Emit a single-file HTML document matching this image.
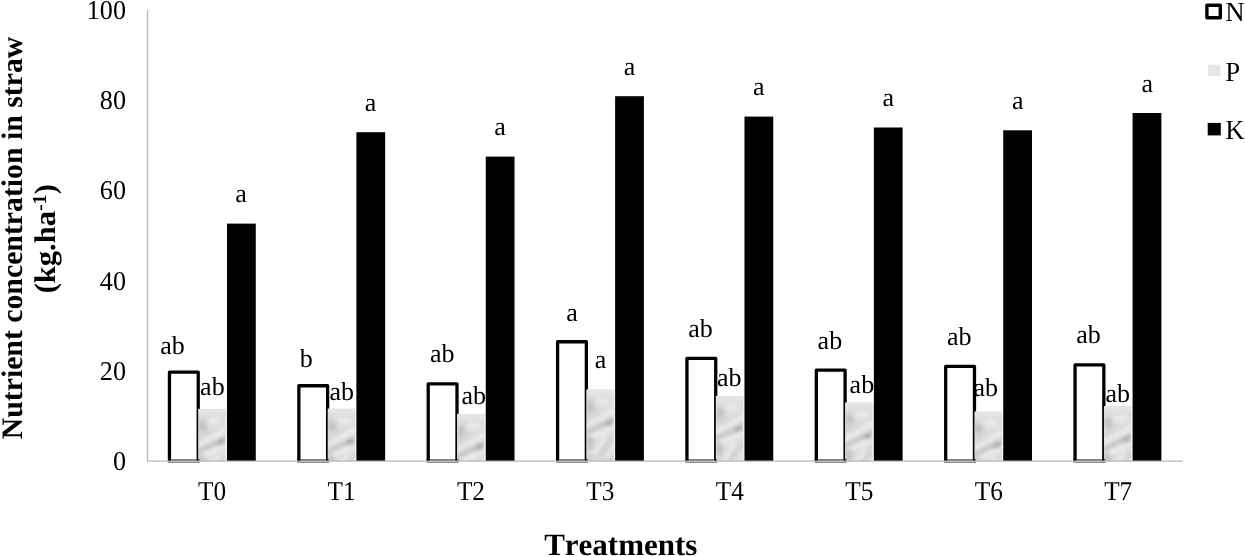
<!DOCTYPE html>
<html><head><meta charset="utf-8"><title>Chart</title>
<style>html,body{margin:0;padding:0;background:#fff;}body{width:1245px;height:556px;overflow:hidden;position:relative;}svg{position:absolute;left:0;top:0;display:block;filter:grayscale(1);}text{font-family:"Liberation Serif",serif;fill:#000;font-kerning:none;font-variant-ligatures:none;text-rendering:geometricPrecision;}</style>
</head><body>
<svg width="1245" height="556" viewBox="0 0 1245 556">
<defs>
<filter id="bl" x="-50%" y="-50%" width="200%" height="200%"><feGaussianBlur stdDeviation="1.9"/></filter>
</defs>
<rect x="0" y="0" width="1245" height="556" fill="#ffffff"/>
<rect x="169.47" y="372.15" width="28.77" height="88.85" fill="#fff"/>
<path d="M169.47 460.4 V372.15 H198.24 V460.4" fill="none" stroke="#000" stroke-width="3.3" stroke-linejoin="round"/>
<clipPath id="cp0"><rect x="198.64" y="408.90" width="26.77" height="52.10"/></clipPath><rect x="198.34" y="408.90" width="28.37" height="52.10" fill="#efefef"/><rect x="198.64" y="408.90" width="26.77" height="52.10" fill="#dcdcdc"/><g clip-path="url(#cp0)"><g filter="url(#bl)" transform="translate(198.64,408.90)"><rect x="-5" y="-5" width="40" height="10" fill="#e5e5e5"/><ellipse cx="3.5" cy="17" rx="4.5" ry="6" fill="#c2c2c2"/><ellipse cx="16" cy="12" rx="7" ry="3.5" fill="#ebebeb"/><path d="M-2 30 L12 22" stroke="#d0d0d0" stroke-width="3" fill="none"/><path d="M-2 38 L30 19" stroke="#ededed" stroke-width="4.5" fill="none"/><path d="M-2 43 L30 29" stroke="#c0c0c0" stroke-width="4.5" fill="none"/><ellipse cx="22.5" cy="33.5" rx="3.2" ry="2.8" fill="#999999"/><path d="M4 47 L30 35" stroke="#f0f0f0" stroke-width="4" fill="none"/><ellipse cx="3" cy="53" rx="4" ry="7" fill="#c2c2c2"/><path d="M6 66 L20 46" stroke="#eeeeee" stroke-width="3" fill="none"/><path d="M12 68 L26 48" stroke="#cacaca" stroke-width="3" fill="none"/><path d="M19 70 L30 52" stroke="#ededed" stroke-width="3" fill="none"/><ellipse cx="4" cy="68" rx="4" ry="4" fill="#d0d0d0"/><path d="M0 84 L30 66" stroke="#c8c8c8" stroke-width="4" fill="none"/></g></g>
<rect x="227.01" y="223.60" width="28.77" height="237.40" fill="#000"/>
<rect x="298.85" y="385.75" width="28.77" height="75.25" fill="#fff"/>
<path d="M298.85 460.4 V385.75 H327.61 V460.4" fill="none" stroke="#000" stroke-width="3.3" stroke-linejoin="round"/>
<clipPath id="cp1"><rect x="328.01" y="408.80" width="26.77" height="52.20"/></clipPath><rect x="327.71" y="408.80" width="28.37" height="52.20" fill="#efefef"/><rect x="328.01" y="408.80" width="26.77" height="52.20" fill="#dcdcdc"/><g clip-path="url(#cp1)"><g filter="url(#bl)" transform="translate(328.01,408.80)"><rect x="-5" y="-5" width="40" height="10" fill="#e5e5e5"/><ellipse cx="3.5" cy="17" rx="4.5" ry="6" fill="#c2c2c2"/><ellipse cx="16" cy="12" rx="7" ry="3.5" fill="#ebebeb"/><path d="M-2 30 L12 22" stroke="#d0d0d0" stroke-width="3" fill="none"/><path d="M-2 38 L30 19" stroke="#ededed" stroke-width="4.5" fill="none"/><path d="M-2 43 L30 29" stroke="#c0c0c0" stroke-width="4.5" fill="none"/><ellipse cx="22.5" cy="33.5" rx="3.2" ry="2.8" fill="#999999"/><path d="M4 47 L30 35" stroke="#f0f0f0" stroke-width="4" fill="none"/><ellipse cx="3" cy="53" rx="4" ry="7" fill="#c2c2c2"/><path d="M6 66 L20 46" stroke="#eeeeee" stroke-width="3" fill="none"/><path d="M12 68 L26 48" stroke="#cacaca" stroke-width="3" fill="none"/><path d="M19 70 L30 52" stroke="#ededed" stroke-width="3" fill="none"/><ellipse cx="4" cy="68" rx="4" ry="4" fill="#d0d0d0"/><path d="M0 84 L30 66" stroke="#c8c8c8" stroke-width="4" fill="none"/></g></g>
<rect x="356.38" y="132.20" width="28.77" height="328.80" fill="#000"/>
<rect x="428.22" y="383.85" width="28.77" height="77.15" fill="#fff"/>
<path d="M428.22 460.4 V383.85 H456.98 V460.4" fill="none" stroke="#000" stroke-width="3.3" stroke-linejoin="round"/>
<clipPath id="cp2"><rect x="457.38" y="413.90" width="26.77" height="47.10"/></clipPath><rect x="457.08" y="413.90" width="28.37" height="47.10" fill="#efefef"/><rect x="457.38" y="413.90" width="26.77" height="47.10" fill="#dcdcdc"/><g clip-path="url(#cp2)"><g filter="url(#bl)" transform="translate(457.38,413.90)"><rect x="-5" y="-5" width="40" height="10" fill="#e5e5e5"/><ellipse cx="3.5" cy="17" rx="4.5" ry="6" fill="#c2c2c2"/><ellipse cx="16" cy="12" rx="7" ry="3.5" fill="#ebebeb"/><path d="M-2 30 L12 22" stroke="#d0d0d0" stroke-width="3" fill="none"/><path d="M-2 38 L30 19" stroke="#ededed" stroke-width="4.5" fill="none"/><path d="M-2 43 L30 29" stroke="#c0c0c0" stroke-width="4.5" fill="none"/><ellipse cx="22.5" cy="33.5" rx="3.2" ry="2.8" fill="#999999"/><path d="M4 47 L30 35" stroke="#f0f0f0" stroke-width="4" fill="none"/><ellipse cx="3" cy="53" rx="4" ry="7" fill="#c2c2c2"/><path d="M6 66 L20 46" stroke="#eeeeee" stroke-width="3" fill="none"/><path d="M12 68 L26 48" stroke="#cacaca" stroke-width="3" fill="none"/><path d="M19 70 L30 52" stroke="#ededed" stroke-width="3" fill="none"/><ellipse cx="4" cy="68" rx="4" ry="4" fill="#d0d0d0"/><path d="M0 84 L30 66" stroke="#c8c8c8" stroke-width="4" fill="none"/></g></g>
<rect x="485.75" y="156.60" width="28.77" height="304.40" fill="#000"/>
<rect x="557.59" y="341.75" width="28.77" height="119.25" fill="#fff"/>
<path d="M557.59 460.4 V341.75 H586.35 V460.4" fill="none" stroke="#000" stroke-width="3.3" stroke-linejoin="round"/>
<clipPath id="cp3"><rect x="586.75" y="389.70" width="26.77" height="71.30"/></clipPath><rect x="586.45" y="389.70" width="28.37" height="71.30" fill="#efefef"/><rect x="586.75" y="389.70" width="26.77" height="71.30" fill="#dcdcdc"/><g clip-path="url(#cp3)"><g filter="url(#bl)" transform="translate(586.75,389.70)"><rect x="-5" y="-5" width="40" height="10" fill="#e5e5e5"/><ellipse cx="3.5" cy="17" rx="4.5" ry="6" fill="#c2c2c2"/><ellipse cx="16" cy="12" rx="7" ry="3.5" fill="#ebebeb"/><path d="M-2 30 L12 22" stroke="#d0d0d0" stroke-width="3" fill="none"/><path d="M-2 38 L30 19" stroke="#ededed" stroke-width="4.5" fill="none"/><path d="M-2 43 L30 29" stroke="#c0c0c0" stroke-width="4.5" fill="none"/><ellipse cx="22.5" cy="33.5" rx="3.2" ry="2.8" fill="#999999"/><path d="M4 47 L30 35" stroke="#f0f0f0" stroke-width="4" fill="none"/><ellipse cx="3" cy="53" rx="4" ry="7" fill="#c2c2c2"/><path d="M6 66 L20 46" stroke="#eeeeee" stroke-width="3" fill="none"/><path d="M12 68 L26 48" stroke="#cacaca" stroke-width="3" fill="none"/><path d="M19 70 L30 52" stroke="#ededed" stroke-width="3" fill="none"/><ellipse cx="4" cy="68" rx="4" ry="4" fill="#d0d0d0"/><path d="M0 84 L30 66" stroke="#c8c8c8" stroke-width="4" fill="none"/></g></g>
<rect x="615.12" y="96.20" width="28.77" height="364.80" fill="#000"/>
<rect x="686.96" y="358.45" width="28.77" height="102.55" fill="#fff"/>
<path d="M686.96 460.4 V358.45 H715.72 V460.4" fill="none" stroke="#000" stroke-width="3.3" stroke-linejoin="round"/>
<clipPath id="cp4"><rect x="716.12" y="395.90" width="26.77" height="65.10"/></clipPath><rect x="715.82" y="395.90" width="28.37" height="65.10" fill="#efefef"/><rect x="716.12" y="395.90" width="26.77" height="65.10" fill="#dcdcdc"/><g clip-path="url(#cp4)"><g filter="url(#bl)" transform="translate(716.12,395.90)"><rect x="-5" y="-5" width="40" height="10" fill="#e5e5e5"/><ellipse cx="3.5" cy="17" rx="4.5" ry="6" fill="#c2c2c2"/><ellipse cx="16" cy="12" rx="7" ry="3.5" fill="#ebebeb"/><path d="M-2 30 L12 22" stroke="#d0d0d0" stroke-width="3" fill="none"/><path d="M-2 38 L30 19" stroke="#ededed" stroke-width="4.5" fill="none"/><path d="M-2 43 L30 29" stroke="#c0c0c0" stroke-width="4.5" fill="none"/><ellipse cx="22.5" cy="33.5" rx="3.2" ry="2.8" fill="#999999"/><path d="M4 47 L30 35" stroke="#f0f0f0" stroke-width="4" fill="none"/><ellipse cx="3" cy="53" rx="4" ry="7" fill="#c2c2c2"/><path d="M6 66 L20 46" stroke="#eeeeee" stroke-width="3" fill="none"/><path d="M12 68 L26 48" stroke="#cacaca" stroke-width="3" fill="none"/><path d="M19 70 L30 52" stroke="#ededed" stroke-width="3" fill="none"/><ellipse cx="4" cy="68" rx="4" ry="4" fill="#d0d0d0"/><path d="M0 84 L30 66" stroke="#c8c8c8" stroke-width="4" fill="none"/></g></g>
<rect x="744.49" y="116.60" width="28.77" height="344.40" fill="#000"/>
<rect x="816.33" y="370.15" width="28.77" height="90.85" fill="#fff"/>
<path d="M816.33 460.4 V370.15 H845.09 V460.4" fill="none" stroke="#000" stroke-width="3.3" stroke-linejoin="round"/>
<clipPath id="cp5"><rect x="845.49" y="402.70" width="26.77" height="58.30"/></clipPath><rect x="845.19" y="402.70" width="28.37" height="58.30" fill="#efefef"/><rect x="845.49" y="402.70" width="26.77" height="58.30" fill="#dcdcdc"/><g clip-path="url(#cp5)"><g filter="url(#bl)" transform="translate(845.49,402.70)"><rect x="-5" y="-5" width="40" height="10" fill="#e5e5e5"/><ellipse cx="3.5" cy="17" rx="4.5" ry="6" fill="#c2c2c2"/><ellipse cx="16" cy="12" rx="7" ry="3.5" fill="#ebebeb"/><path d="M-2 30 L12 22" stroke="#d0d0d0" stroke-width="3" fill="none"/><path d="M-2 38 L30 19" stroke="#ededed" stroke-width="4.5" fill="none"/><path d="M-2 43 L30 29" stroke="#c0c0c0" stroke-width="4.5" fill="none"/><ellipse cx="22.5" cy="33.5" rx="3.2" ry="2.8" fill="#999999"/><path d="M4 47 L30 35" stroke="#f0f0f0" stroke-width="4" fill="none"/><ellipse cx="3" cy="53" rx="4" ry="7" fill="#c2c2c2"/><path d="M6 66 L20 46" stroke="#eeeeee" stroke-width="3" fill="none"/><path d="M12 68 L26 48" stroke="#cacaca" stroke-width="3" fill="none"/><path d="M19 70 L30 52" stroke="#ededed" stroke-width="3" fill="none"/><ellipse cx="4" cy="68" rx="4" ry="4" fill="#d0d0d0"/><path d="M0 84 L30 66" stroke="#c8c8c8" stroke-width="4" fill="none"/></g></g>
<rect x="873.86" y="127.50" width="28.77" height="333.50" fill="#000"/>
<rect x="945.70" y="366.35" width="28.77" height="94.65" fill="#fff"/>
<path d="M945.70 460.4 V366.35 H974.46 V460.4" fill="none" stroke="#000" stroke-width="3.3" stroke-linejoin="round"/>
<clipPath id="cp6"><rect x="974.86" y="411.70" width="26.77" height="49.30"/></clipPath><rect x="974.56" y="411.70" width="28.37" height="49.30" fill="#efefef"/><rect x="974.86" y="411.70" width="26.77" height="49.30" fill="#dcdcdc"/><g clip-path="url(#cp6)"><g filter="url(#bl)" transform="translate(974.86,411.70)"><rect x="-5" y="-5" width="40" height="10" fill="#e5e5e5"/><ellipse cx="3.5" cy="17" rx="4.5" ry="6" fill="#c2c2c2"/><ellipse cx="16" cy="12" rx="7" ry="3.5" fill="#ebebeb"/><path d="M-2 30 L12 22" stroke="#d0d0d0" stroke-width="3" fill="none"/><path d="M-2 38 L30 19" stroke="#ededed" stroke-width="4.5" fill="none"/><path d="M-2 43 L30 29" stroke="#c0c0c0" stroke-width="4.5" fill="none"/><ellipse cx="22.5" cy="33.5" rx="3.2" ry="2.8" fill="#999999"/><path d="M4 47 L30 35" stroke="#f0f0f0" stroke-width="4" fill="none"/><ellipse cx="3" cy="53" rx="4" ry="7" fill="#c2c2c2"/><path d="M6 66 L20 46" stroke="#eeeeee" stroke-width="3" fill="none"/><path d="M12 68 L26 48" stroke="#cacaca" stroke-width="3" fill="none"/><path d="M19 70 L30 52" stroke="#ededed" stroke-width="3" fill="none"/><ellipse cx="4" cy="68" rx="4" ry="4" fill="#d0d0d0"/><path d="M0 84 L30 66" stroke="#c8c8c8" stroke-width="4" fill="none"/></g></g>
<rect x="1003.23" y="130.30" width="28.77" height="330.70" fill="#000"/>
<rect x="1075.06" y="364.95" width="28.77" height="96.05" fill="#fff"/>
<path d="M1075.06 460.4 V364.95 H1103.83 V460.4" fill="none" stroke="#000" stroke-width="3.3" stroke-linejoin="round"/>
<clipPath id="cp7"><rect x="1104.23" y="406.20" width="26.77" height="54.80"/></clipPath><rect x="1103.93" y="406.20" width="28.37" height="54.80" fill="#efefef"/><rect x="1104.23" y="406.20" width="26.77" height="54.80" fill="#dcdcdc"/><g clip-path="url(#cp7)"><g filter="url(#bl)" transform="translate(1104.23,406.20)"><rect x="-5" y="-5" width="40" height="10" fill="#e5e5e5"/><ellipse cx="3.5" cy="17" rx="4.5" ry="6" fill="#c2c2c2"/><ellipse cx="16" cy="12" rx="7" ry="3.5" fill="#ebebeb"/><path d="M-2 30 L12 22" stroke="#d0d0d0" stroke-width="3" fill="none"/><path d="M-2 38 L30 19" stroke="#ededed" stroke-width="4.5" fill="none"/><path d="M-2 43 L30 29" stroke="#c0c0c0" stroke-width="4.5" fill="none"/><ellipse cx="22.5" cy="33.5" rx="3.2" ry="2.8" fill="#999999"/><path d="M4 47 L30 35" stroke="#f0f0f0" stroke-width="4" fill="none"/><ellipse cx="3" cy="53" rx="4" ry="7" fill="#c2c2c2"/><path d="M6 66 L20 46" stroke="#eeeeee" stroke-width="3" fill="none"/><path d="M12 68 L26 48" stroke="#cacaca" stroke-width="3" fill="none"/><path d="M19 70 L30 52" stroke="#ededed" stroke-width="3" fill="none"/><ellipse cx="4" cy="68" rx="4" ry="4" fill="#d0d0d0"/><path d="M0 84 L30 66" stroke="#c8c8c8" stroke-width="4" fill="none"/></g></g>
<rect x="1132.60" y="113.00" width="28.77" height="348.00" fill="#000"/>
<path d="M147.50 10.00 V461.15 H1182.6" fill="none" stroke="#b9b9b9" stroke-width="1.4"/>
<rect x="167.97" y="459.0" width="31.77" height="3.9" fill="#808080"/>
<rect x="167.97" y="458.8" width="3" height="1.95" fill="#000"/>
<rect x="196.74" y="458.8" width="1.9" height="1.95" fill="#000"/>
<rect x="167.97" y="460.8" width="31.77" height="0.95" fill="#d2d2d2"/>
<rect x="297.35" y="459.0" width="31.77" height="3.9" fill="#808080"/>
<rect x="297.35" y="458.8" width="3" height="1.95" fill="#000"/>
<rect x="326.11" y="458.8" width="1.9" height="1.95" fill="#000"/>
<rect x="297.35" y="460.8" width="31.77" height="0.95" fill="#d2d2d2"/>
<rect x="426.72" y="459.0" width="31.77" height="3.9" fill="#808080"/>
<rect x="426.72" y="458.8" width="3" height="1.95" fill="#000"/>
<rect x="455.48" y="458.8" width="1.9" height="1.95" fill="#000"/>
<rect x="426.72" y="460.8" width="31.77" height="0.95" fill="#d2d2d2"/>
<rect x="556.09" y="459.0" width="31.77" height="3.9" fill="#808080"/>
<rect x="556.09" y="458.8" width="3" height="1.95" fill="#000"/>
<rect x="584.85" y="458.8" width="1.9" height="1.95" fill="#000"/>
<rect x="556.09" y="460.8" width="31.77" height="0.95" fill="#d2d2d2"/>
<rect x="685.46" y="459.0" width="31.77" height="3.9" fill="#808080"/>
<rect x="685.46" y="458.8" width="3" height="1.95" fill="#000"/>
<rect x="714.22" y="458.8" width="1.9" height="1.95" fill="#000"/>
<rect x="685.46" y="460.8" width="31.77" height="0.95" fill="#d2d2d2"/>
<rect x="814.83" y="459.0" width="31.77" height="3.9" fill="#808080"/>
<rect x="814.83" y="458.8" width="3" height="1.95" fill="#000"/>
<rect x="843.59" y="458.8" width="1.9" height="1.95" fill="#000"/>
<rect x="814.83" y="460.8" width="31.77" height="0.95" fill="#d2d2d2"/>
<rect x="944.20" y="459.0" width="31.77" height="3.9" fill="#808080"/>
<rect x="944.20" y="458.8" width="3" height="1.95" fill="#000"/>
<rect x="972.96" y="458.8" width="1.9" height="1.95" fill="#000"/>
<rect x="944.20" y="460.8" width="31.77" height="0.95" fill="#d2d2d2"/>
<rect x="1073.56" y="459.0" width="31.77" height="3.9" fill="#808080"/>
<rect x="1073.56" y="458.8" width="3" height="1.95" fill="#000"/>
<rect x="1102.33" y="458.8" width="1.9" height="1.95" fill="#000"/>
<rect x="1073.56" y="460.8" width="31.77" height="0.95" fill="#d2d2d2"/>
<text transform="translate(126.0,470.10) scale(0.965,1)" font-size="27.1" text-anchor="end">0</text>
<text transform="translate(126.0,379.88) scale(0.965,1)" font-size="27.1" text-anchor="end">20</text>
<text transform="translate(126.0,289.66) scale(0.965,1)" font-size="27.1" text-anchor="end">40</text>
<text transform="translate(126.0,199.44) scale(0.965,1)" font-size="27.1" text-anchor="end">60</text>
<text transform="translate(126.0,109.22) scale(0.965,1)" font-size="27.1" text-anchor="end">80</text>
<text transform="translate(126.0,19.00) scale(0.965,1)" font-size="27.1" text-anchor="end">100</text>
<text transform="translate(212.02,500.0) scale(0.93,1)" font-size="27.2" text-anchor="middle">T0</text>
<text transform="translate(341.48,500.0) scale(0.93,1)" font-size="27.2" text-anchor="middle">T1</text>
<text transform="translate(470.93,500.0) scale(0.93,1)" font-size="27.2" text-anchor="middle">T2</text>
<text transform="translate(600.38,500.0) scale(0.93,1)" font-size="27.2" text-anchor="middle">T3</text>
<text transform="translate(729.83,500.0) scale(0.93,1)" font-size="27.2" text-anchor="middle">T4</text>
<text transform="translate(859.28,500.0) scale(0.93,1)" font-size="27.2" text-anchor="middle">T5</text>
<text transform="translate(988.73,500.0) scale(0.93,1)" font-size="27.2" text-anchor="middle">T6</text>
<text transform="translate(1118.17,500.0) scale(0.93,1)" font-size="27.2" text-anchor="middle">T7</text>
<text x="160.30" y="353.70" font-size="26.0">ab</text>
<text x="299.70" y="366.50" font-size="26.0">b</text>
<text x="429.90" y="362.40" font-size="26.0">ab</text>
<text x="688.30" y="337.40" font-size="26.0">ab</text>
<text x="817.60" y="349.10" font-size="26.0">ab</text>
<text x="946.90" y="345.30" font-size="26.0">ab</text>
<text x="1076.30" y="343.00" font-size="26.0">ab</text>
<text x="200.10" y="395.30" font-size="26.0">ab</text>
<text x="329.40" y="400.20" font-size="26.0">ab</text>
<text x="461.40" y="403.50" font-size="26.0">ab</text>
<text x="594.70" y="367.50" font-size="26.0">a</text>
<text x="716.90" y="386.20" font-size="26.0">ab</text>
<text x="849.60" y="393.20" font-size="26.0">ab</text>
<text x="973.50" y="395.90" font-size="26.0">ab</text>
<text x="1105.50" y="401.90" font-size="26.0">ab</text>
<text x="572.0" y="320.6" font-size="26.0" text-anchor="middle">a</text>
<text x="241.09" y="202.30" font-size="26.0" text-anchor="middle">a</text>
<text x="370.54" y="110.90" font-size="26.0" text-anchor="middle">a</text>
<text x="499.99" y="135.30" font-size="26.0" text-anchor="middle">a</text>
<text x="629.44" y="74.90" font-size="26.0" text-anchor="middle">a</text>
<text x="758.89" y="95.30" font-size="26.0" text-anchor="middle">a</text>
<text x="888.34" y="106.20" font-size="26.0" text-anchor="middle">a</text>
<text x="1017.79" y="109.00" font-size="26.0" text-anchor="middle">a</text>
<text x="1147.24" y="91.70" font-size="26.0" text-anchor="middle">a</text>
<rect x="1206.9" y="5.2" width="13.4" height="12.5" fill="#fff" stroke="#000" stroke-width="3.4" stroke-linejoin="round"/>
<rect x="1207.9" y="64.6" width="12.6" height="11.6" fill="#e6e6e6"/>
<rect x="1207.7" y="122.9" width="13.1" height="12.5" fill="#000"/>
<text transform="translate(1225.2,21.4) scale(0.97,1)" font-size="27.7">N</text>
<text transform="translate(1225.2,80.5) scale(0.97,1)" font-size="27.7">P</text>
<text transform="translate(1225.2,139.1) scale(0.97,1)" font-size="27.7">K</text>
<text transform="translate(21.8,238) rotate(-90)" font-size="29.77" font-weight="bold" text-anchor="middle">Nutrient concentration in straw</text>
<text transform="translate(55,238.7) rotate(-90) scale(1.02,1)" font-size="29.9" font-weight="bold" text-anchor="middle">(kg.ha<tspan font-size="19.8" dy="-9">-1</tspan><tspan dy="9">)</tspan></text>
<text x="620.8" y="554.6" font-size="31.0" font-weight="bold" text-anchor="middle">Treatments</text>
</svg>
</body></html>
